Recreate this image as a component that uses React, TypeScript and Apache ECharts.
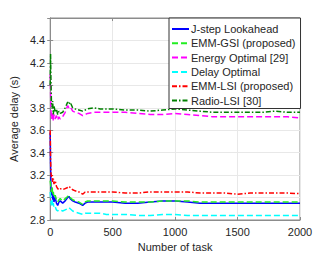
import React, { useEffect, useRef } from "react";
import * as echarts from "echarts";

const xs = [0, 3, 6, 10, 15, 20, 25, 30, 40, 50, 60, 70, 80, 100, 120, 140, 150, 160, 180, 200, 230, 260, 280, 300, 350, 400, 450, 500, 600, 700, 800, 900, 1000, 1100, 1200, 1300, 1400, 1500, 1600, 1700, 1800, 1900, 2000];

const jstep = [3.58, 3.30, 3.10, 3.02, 3.08, 2.98, 3.03, 2.96, 3.00, 2.95, 2.93, 2.96, 2.97, 2.95, 2.97, 3.00, 3.01, 2.99, 2.97, 2.96, 2.95, 2.93, 2.95, 2.96, 2.96, 2.96, 2.96, 2.96, 2.95, 2.95, 2.96, 2.97, 2.97, 2.96, 2.95, 2.95, 2.95, 2.95, 2.95, 2.95, 2.95, 2.95, 2.95];
const emmGsi = [3.15, 3.12, 3.08, 3.05, 3.10, 3.02, 3.05, 3.00, 3.02, 2.98, 2.96, 2.98, 2.99, 2.97, 2.99, 3.01, 3.02, 3.00, 2.98, 2.97, 2.96, 2.94, 2.96, 2.97, 2.97, 2.97, 2.97, 2.97, 2.96, 2.96, 2.96, 2.97, 2.97, 2.97, 2.96, 2.96, 2.96, 2.96, 2.96, 2.96, 2.96, 2.96, 2.96];
const energyOpt = [4.10, 3.95, 3.78, 3.70, 3.72, 3.76, 3.68, 3.74, 3.70, 3.73, 3.69, 3.72, 3.70, 3.72, 3.76, 3.82, 3.80, 3.81, 3.77, 3.76, 3.75, 3.73, 3.74, 3.75, 3.76, 3.76, 3.76, 3.76, 3.76, 3.75, 3.74, 3.74, 3.75, 3.74, 3.73, 3.72, 3.72, 3.72, 3.72, 3.72, 3.72, 3.72, 3.71];
const delayOpt = [3.05, 3.00, 2.96, 2.93, 2.98, 2.92, 2.95, 2.91, 2.92, 2.89, 2.88, 2.89, 2.89, 2.88, 2.89, 2.90, 2.91, 2.90, 2.88, 2.87, 2.86, 2.85, 2.86, 2.86, 2.86, 2.86, 2.85, 2.85, 2.85, 2.84, 2.84, 2.85, 2.85, 2.84, 2.84, 2.84, 2.84, 2.84, 2.84, 2.84, 2.84, 2.84, 2.84];
const emmLsi = [3.60, 3.35, 3.22, 3.18, 3.20, 3.14, 3.17, 3.12, 3.15, 3.10, 3.08, 3.07, 3.08, 3.07, 3.08, 3.09, 3.10, 3.09, 3.07, 3.06, 3.05, 3.03, 3.05, 3.05, 3.05, 3.05, 3.05, 3.05, 3.04, 3.04, 3.05, 3.05, 3.05, 3.05, 3.04, 3.04, 3.04, 3.03, 3.04, 3.04, 3.04, 3.04, 3.035];
const radioLsi = [4.00, 4.28, 4.05, 3.85, 3.80, 3.86, 3.74, 3.82, 3.76, 3.79, 3.74, 3.77, 3.75, 3.76, 3.80, 3.85, 3.83, 3.85, 3.80, 3.79, 3.78, 3.77, 3.78, 3.79, 3.80, 3.79, 3.79, 3.79, 3.78, 3.78, 3.77, 3.78, 3.79, 3.78, 3.77, 3.76, 3.76, 3.76, 3.76, 3.76, 3.77, 3.76, 3.76];

const seriesDefs = [
  { name: "J-step Lookahead", data: jstep, color: "#0000ff", type: "solid" as any },
  { name: "EMM-GSI (proposed)", data: emmGsi, color: "#22ee22", type: [6, 3] },
  { name: "Energy Optimal [29]", data: energyOpt, color: "#ff00ff", type: [6, 3] },
  { name: "Delay Optimal", data: delayOpt, color: "#00ffff", type: [6, 3] },
  { name: "EMM-LSI (proposed)", data: emmLsi, color: "#ff0000", type: [5, 2, 1.5, 2] },
  { name: "Radio-LSI [30]", data: radioLsi, color: "#008000", type: [5, 2, 1.5, 2] },
];

const FONT = "Liberation Sans, Arial, sans-serif";

export default function App() {
  const ref = useRef<HTMLDivElement>(null);
  useEffect(() => {
    if (!ref.current) return;
    const chart = echarts.init(ref.current, undefined, { renderer: "svg" });
    const axisColor = "#262626";
    chart.setOption({
      animation: false,
      backgroundColor: "#ffffff",
      textStyle: { fontFamily: FONT },
      grid: { left: 43, right: 32, top: 18, bottom: 38, show: true, borderColor: "#8c8c8c", borderWidth: 1 },
      legend: {
        orient: "vertical",
        left: 169,
        top: 18,
        padding: [4, 5, 1, 2],
        itemWidth: 17,
        itemHeight: 10,
        itemGap: 0.3,
        backgroundColor: "#ffffff",
        borderColor: "#333333",
        borderWidth: 1,
        itemStyle: { opacity: 0 },
        textStyle: { fontSize: 11, color: axisColor, fontFamily: FONT, lineHeight: 14, padding: [0, 0, 0, -3] },
        data: seriesDefs.map((s) => s.name),
      },
      xAxis: [
        {
          type: "value",
          min: 0,
          max: 2000,
          interval: 500,
          name: "Number of task",
          nameLocation: "middle",
          nameGap: 20,
          nameTextStyle: { fontSize: 11, color: axisColor, fontFamily: FONT },
          axisLine: { show: true, onZero: false, lineStyle: { color: "#8c8c8c" } },
          axisTick: { show: true, inside: true, length: 3, lineStyle: { color: "#8c8c8c" } },
          axisLabel: { fontSize: 11, color: axisColor, margin: 6, fontFamily: FONT, formatter: (v: number) => String(v) },
          splitLine: { show: true, lineStyle: { color: "#e8e8e8" } },
        },
        {
          type: "value",
          position: "top",
          min: 0,
          max: 2000,
          interval: 500,
          axisLine: { show: true, lineStyle: { color: "#8c8c8c" } },
          axisTick: { show: true, inside: true, length: 3, lineStyle: { color: "#8c8c8c" } },
          axisLabel: { show: false },
          splitLine: { show: false },
        },
      ],
      yAxis: [
        {
          type: "value",
          min: 2.8,
          max: 4.6,
          interval: 0.2,
          name: "Average delay (s)",
          nameLocation: "middle",
          nameGap: 25,
          nameTextStyle: { fontSize: 11, color: axisColor, fontFamily: FONT },
          axisLine: { show: true, onZero: false, lineStyle: { color: "#8c8c8c" } },
          axisTick: { show: true, inside: true, length: 3, lineStyle: { color: "#8c8c8c" } },
          axisLabel: {
            fontSize: 11,
            color: axisColor,
            margin: 5,
            fontFamily: FONT,
            formatter: (v: number) => (v > 4.5 ? "" : String(Math.round(v * 10) / 10)),
          },
          splitLine: { show: true, lineStyle: { color: "#e8e8e8" } },
        },
        {
          type: "value",
          position: "right",
          min: 2.8,
          max: 4.6,
          interval: 0.2,
          axisLine: { show: true, lineStyle: { color: "#8c8c8c" } },
          axisTick: { show: true, inside: true, length: 3, lineStyle: { color: "#8c8c8c" } },
          axisLabel: { show: false },
          splitLine: { show: false },
        },
      ],
      series: seriesDefs.map((s) => ({
        name: s.name,
        type: "line",
        xAxisIndex: 0,
        yAxisIndex: 0,
        showSymbol: false,
        symbol: "none",
        data: xs.map((x, i) => [x, s.data[i]]),
        lineStyle: { color: s.color, width: 1.5, type: s.type },
        itemStyle: { color: s.color },
      })),
    });
    return () => chart.dispose();
  }, []);
  return <div ref={ref} style={{ position: "fixed", left: 0, top: 0, width: 332, height: 258 }} />;
}
